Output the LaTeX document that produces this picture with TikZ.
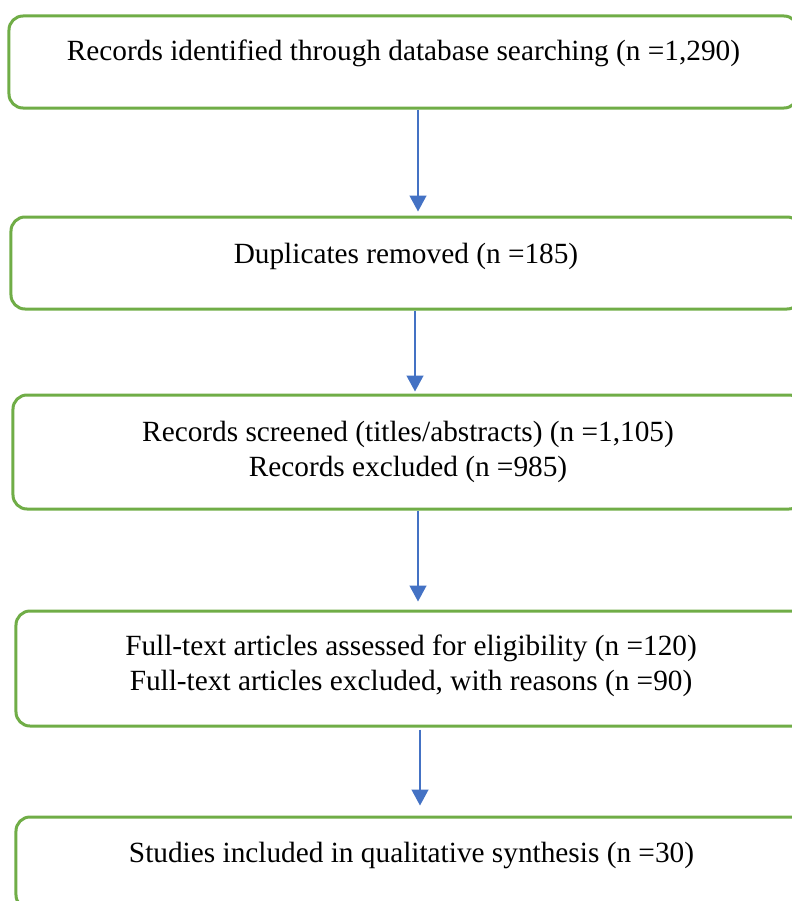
\documentclass[tikz,border=0pt]{standalone}
\usepackage{fontspec}
\setmainfont{Liberation Serif}
\usetikzlibrary{arrows.meta}
\definecolor{boxgreen}{HTML}{70AD47}
\definecolor{arrblue}{HTML}{4472C4}
\tikzset{
	stagebox/.style={draw=boxgreen, line width=3bp, rounded corners=14bp, inner sep=0pt},
	stagetext/.style={anchor=base, align=center, inner sep=0pt, font=\fontsize{29.3bp}{34.5bp}\selectfont},
	flow/.style={draw=arrblue, line width=1.4bp, -{Triangle[width=17bp,length=16bp]}}
}

\begin{document}
\begin{tikzpicture}[x=1bp,y=-1bp]
\clip (0,0) rectangle (792,901);

% boxes
\node[stagebox, minimum width=789bp, minimum height=92bp] (ident) at (403.5,62) {};
\node[stagebox, minimum width=790bp, minimum height=92bp] (dupl) at (406,263) {};
\node[stagebox, minimum width=790bp, minimum height=114bp] (screen) at (408,452) {};
\node[stagebox, minimum width=790bp, minimum height=115bp] (elig) at (411,668.5) {};
\node[stagebox, minimum width=791bp, minimum height=92bp] (incl) at (411.5,863) {};

% texts
\node[stagetext] (identtxt) at (403.5,60) {Records identified through database searching (n =1,290)};
\node[stagetext] (dupltxt) at (406,263) {Duplicates removed (n =185)};
\node[stagetext] (screentxt) at (408,476) {Records screened (titles/abstracts) (n =1,105)\\ Records excluded (n =985)};
\node[stagetext] (eligtxt) at (411,690) {Full-text articles assessed for eligibility (n =120)\\ Full-text articles excluded, with reasons (n =90)};
\node[stagetext] (incltxt) at (411.5,862) {Studies included in qualitative synthesis (n =30)};

% arrows
\draw[flow, shorten >=4bp] (ident.south -| 418,0) -- (dupl.north -| 418,0);
\draw[flow, shorten >=2bp] (dupl.south -| 415,0) -- (screen.north -| 415,0);
\draw[flow, shorten >=8bp] (screen.south -| 418,0) -- (elig.north -| 418,0);
\draw[flow, shorten <=2bp, shorten >=10bp] (elig.south -| 420,0) -- (incl.north -| 420,0);
\end{tikzpicture}
\end{document}
